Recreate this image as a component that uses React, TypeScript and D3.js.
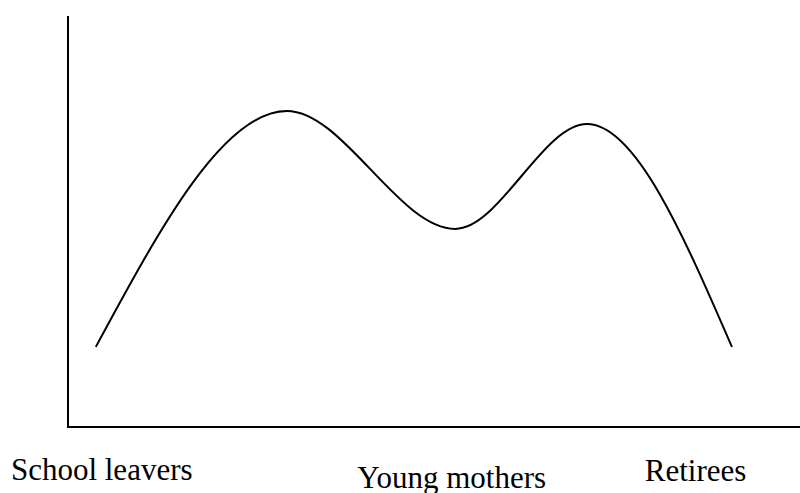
import React from 'react';
import * as d3 from 'd3';

// x position along the axis (0-100) and level (0-100) of the curve's key points
const curveX = [3.8, 29.9, 52.9, 70.9, 90.7];
const curveY = [19.5, 76.9, 48.2, 73.7, 19.5];

const labels = ['School leavers', 'Young mothers', 'Retirees'];
const labelX = [-7.8, 39.5, 78.8];
const labelY = [-12.9, -14.8, -13.1];

const width = 800;
const height = 493;

const App = () => {
  const x = d3.scaleLinear().domain([0, 100]).range([68, 800]);
  const y = d3.scaleLinear().domain([0, 100]).range([427, 16]);

  const points: [number, number][] = curveX.map((d, i) => [d, curveY[i]]);
  const line = d3.line<[number, number]>()
    .x((d) => x(d[0]))
    .y((d) => y(d[1]))
    .curve(d3.curveMonotoneX);

  return (
    <svg
      width={width}
      height={height}
      style={{ position: 'absolute', left: 0, top: 0, background: '#fff' }}
    >
      {/* axes */}
      <line x1={x(0)} x2={x(0)} y1={y(100)} y2={y(0)} stroke="#000" strokeWidth={2} />
      <line x1={x(0) - 1} x2={x(100)} y1={y(0)} y2={y(0)} stroke="#000" strokeWidth={2} />
      <path d={line(points) || ''} fill="none" stroke="#000" strokeWidth={2} />
      {labels.map((l, i) => (
        <text
          key={l}
          x={x(labelX[i])}
          y={y(labelY[i])}
          fontFamily="'Liberation Serif', 'Times New Roman', serif"
          fontSize={31}
          fill="#000"
        >
          {l}
        </text>
      ))}
    </svg>
  );
};

export default App;
